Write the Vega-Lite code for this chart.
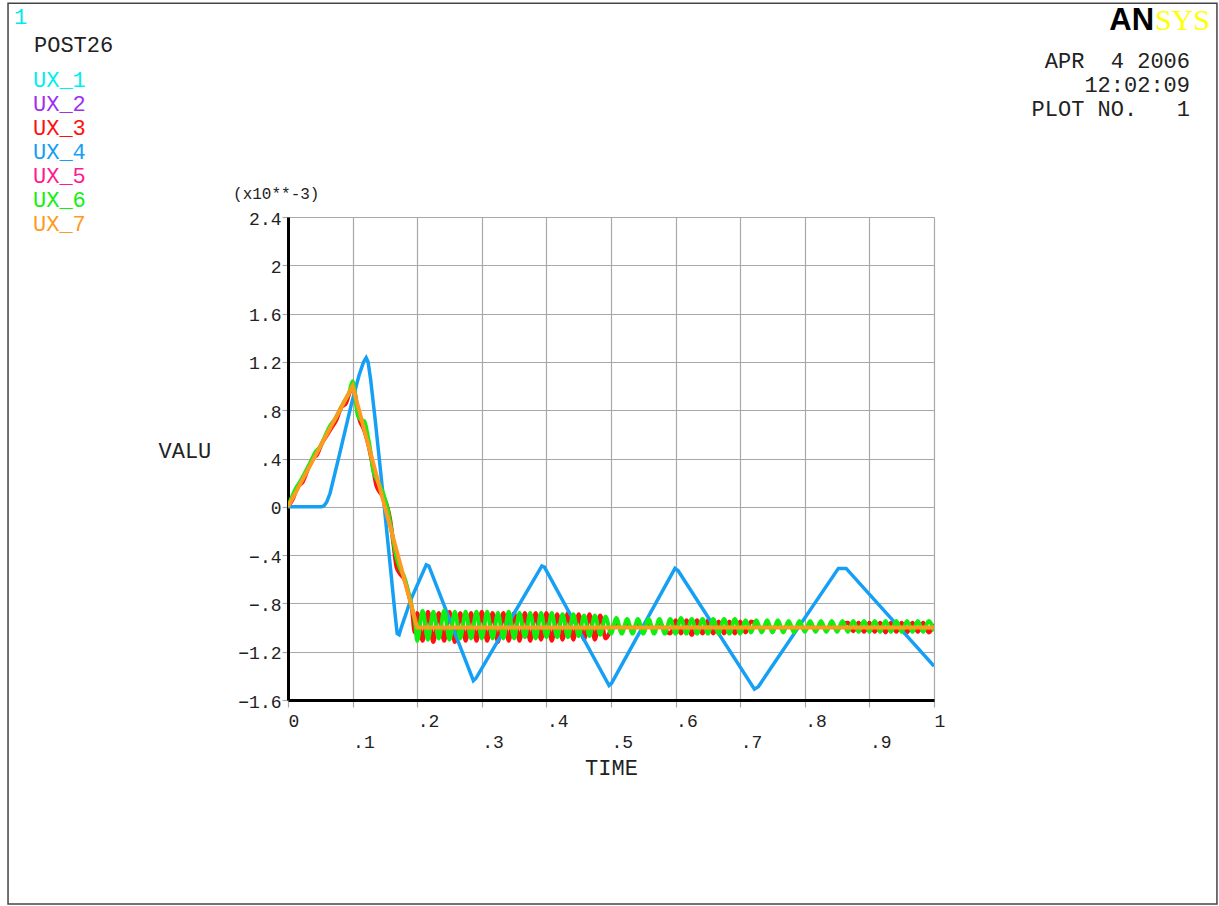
{
  "$schema": "https://vega.github.io/schema/vega-lite/v6.json",
  "width": 646,
  "height": 483,
  "autosize": {"type": "none"},
  "padding": {"left": 288, "top": 217, "right": 285, "bottom": 206},
  "background": "white",
  "config": {
    "view": {"stroke": null},
    "font": "Liberation Mono",
    "axis": {
      "grid": true,
      "gridColor": "#A8A8A8",
      "gridWidth": 1.2,
      "domainColor": "#000000",
      "domainWidth": 3,
      "tickColor": "#A8A8A8",
      "tickWidth": 1.2,
      "labelColor": "#222222",
      "titleColor": "#222222",
      "labelFont": "Liberation Mono",
      "titleFont": "Liberation Mono",
      "labelFontSize": 18,
      "titleFontSize": 22,
      "titleFontWeight": "normal"
    }
  },
  "data": {
    "values": [
      {"series":"UX_3","time":0,"value":0},{"series":"UX_3","time":0.008,"value":0.07},{"series":"UX_3","time":0.015,"value":0.17},{"series":"UX_3","time":0.022,"value":0.2},{"series":"UX_3","time":0.03,"value":0.3},{"series":"UX_3","time":0.038,"value":0.4},{"series":"UX_3","time":0.045,"value":0.43},{"series":"UX_3","time":0.052,"value":0.52},{"series":"UX_3","time":0.06,"value":0.59},{"series":"UX_3","time":0.068,"value":0.66},{"series":"UX_3","time":0.075,"value":0.72},{"series":"UX_3","time":0.082,"value":0.82},{"series":"UX_3","time":0.09,"value":0.86},{"series":"UX_3","time":0.097,"value":0.97},{"series":"UX_3","time":0.1,"value":1.0},{"series":"UX_3","time":0.104,"value":0.93},{"series":"UX_3","time":0.108,"value":0.78},{"series":"UX_3","time":0.112,"value":0.7},{"series":"UX_3","time":0.116,"value":0.66},{"series":"UX_3","time":0.12,"value":0.6},{"series":"UX_3","time":0.125,"value":0.5},{"series":"UX_3","time":0.13,"value":0.37},{"series":"UX_3","time":0.137,"value":0.17},{"series":"UX_3","time":0.145,"value":0.1},{"series":"UX_3","time":0.152,"value":0.03},{"series":"UX_3","time":0.158,"value":-0.1},{"series":"UX_3","time":0.163,"value":-0.3},{"series":"UX_3","time":0.168,"value":-0.5},{"series":"UX_3","time":0.174,"value":-0.56},{"series":"UX_3","time":0.18,"value":-0.6},{"series":"UX_3","time":0.186,"value":-0.71},{"series":"UX_3","time":0.192,"value":-0.85},{"series":"UX_3","time":0.196,"value":-1.04},
      {"series":"UX_3","time":0.2,"value":-0.88},{"series":"UX_3","time":0.2083,"value":-1.11},{"series":"UX_3","time":0.2167,"value":-0.87},{"series":"UX_3","time":0.225,"value":-1.12},{"series":"UX_3","time":0.2333,"value":-0.88},{"series":"UX_3","time":0.2417,"value":-1.11},{"series":"UX_3","time":0.25,"value":-0.87},{"series":"UX_3","time":0.2583,"value":-1.12},{"series":"UX_3","time":0.2667,"value":-0.88},{"series":"UX_3","time":0.275,"value":-1.11},{"series":"UX_3","time":0.2833,"value":-0.88},{"series":"UX_3","time":0.2917,"value":-1.11},{"series":"UX_3","time":0.3,"value":-0.87},{"series":"UX_3","time":0.3083,"value":-1.11},{"series":"UX_3","time":0.3167,"value":-0.88},{"series":"UX_3","time":0.325,"value":-1.12},{"series":"UX_3","time":0.3333,"value":-0.88},{"series":"UX_3","time":0.3417,"value":-1.11},{"series":"UX_3","time":0.35,"value":-0.88},{"series":"UX_3","time":0.3583,"value":-1.11},{"series":"UX_3","time":0.3667,"value":-0.88},{"series":"UX_3","time":0.375,"value":-1.11},{"series":"UX_3","time":0.3833,"value":-0.88},{"series":"UX_3","time":0.3917,"value":-1.1},{"series":"UX_3","time":0.4,"value":-0.88},{"series":"UX_3","time":0.4083,"value":-1.11},{"series":"UX_3","time":0.4167,"value":-0.89},{"series":"UX_3","time":0.425,"value":-1.1},{"series":"UX_3","time":0.4333,"value":-0.88},{"series":"UX_3","time":0.4417,"value":-1.1},{"series":"UX_3","time":0.45,"value":-0.89},{"series":"UX_3","time":0.4583,"value":-1.1},{"series":"UX_3","time":0.4667,"value":-0.89},{"series":"UX_3","time":0.475,"value":-1.1},{"series":"UX_3","time":0.4833,"value":-0.9},{"series":"UX_3","time":0.4917,"value":-1.09},
      {"series":"UX_3","time":0.5,"value":-1.02},{"series":"UX_3","time":0.5083,"value":-0.96},{"series":"UX_3","time":0.5167,"value":-1.03},{"series":"UX_3","time":0.525,"value":-0.96},{"series":"UX_3","time":0.5333,"value":-1.02},{"series":"UX_3","time":0.5417,"value":-0.96},{"series":"UX_3","time":0.55,"value":-1.03},{"series":"UX_3","time":0.5583,"value":-0.96},{"series":"UX_3","time":0.5667,"value":-1.02},{"series":"UX_3","time":0.575,"value":-0.96},{"series":"UX_3","time":0.5833,"value":-1.02},
      {"series":"UX_3","time":0.5917,"value":-1.05},{"series":"UX_3","time":0.6,"value":-0.94},{"series":"UX_3","time":0.6083,"value":-1.05},{"series":"UX_3","time":0.6167,"value":-0.94},{"series":"UX_3","time":0.625,"value":-1.06},{"series":"UX_3","time":0.6333,"value":-0.94},{"series":"UX_3","time":0.6417,"value":-1.05},{"series":"UX_3","time":0.65,"value":-0.94},{"series":"UX_3","time":0.6583,"value":-1.05},{"series":"UX_3","time":0.6667,"value":-0.95},{"series":"UX_3","time":0.675,"value":-1.05},{"series":"UX_3","time":0.6833,"value":-0.95},{"series":"UX_3","time":0.6917,"value":-1.05},{"series":"UX_3","time":0.7,"value":-0.95},{"series":"UX_3","time":0.7083,"value":-1.04},{"series":"UX_3","time":0.7167,"value":-0.95},
      {"series":"UX_3","time":0.725,"value":-0.97},{"series":"UX_3","time":0.7333,"value":-1.02},{"series":"UX_3","time":0.7417,"value":-0.97},{"series":"UX_3","time":0.75,"value":-1.02},{"series":"UX_3","time":0.7583,"value":-0.97},{"series":"UX_3","time":0.7667,"value":-1.02},{"series":"UX_3","time":0.775,"value":-0.97},{"series":"UX_3","time":0.7833,"value":-1.02},{"series":"UX_3","time":0.7917,"value":-0.97},{"series":"UX_3","time":0.8,"value":-1.02},{"series":"UX_3","time":0.8083,"value":-0.97},{"series":"UX_3","time":0.8167,"value":-1.02},{"series":"UX_3","time":0.825,"value":-0.97},{"series":"UX_3","time":0.8333,"value":-1.02},{"series":"UX_3","time":0.8417,"value":-0.97},{"series":"UX_3","time":0.85,"value":-1.02},{"series":"UX_3","time":0.8583,"value":-0.97},
      {"series":"UX_3","time":0.8667,"value":-0.96},{"series":"UX_3","time":0.875,"value":-1.03},{"series":"UX_3","time":0.8833,"value":-0.96},{"series":"UX_3","time":0.8917,"value":-1.035},{"series":"UX_3","time":0.9,"value":-0.96},{"series":"UX_3","time":0.9083,"value":-1.035},{"series":"UX_3","time":0.9167,"value":-0.96},{"series":"UX_3","time":0.925,"value":-1.04},{"series":"UX_3","time":0.9333,"value":-0.96},{"series":"UX_3","time":0.9417,"value":-1.035},{"series":"UX_3","time":0.95,"value":-0.96},{"series":"UX_3","time":0.9583,"value":-1.04},{"series":"UX_3","time":0.9667,"value":-0.96},{"series":"UX_3","time":0.975,"value":-1.035},{"series":"UX_3","time":0.9833,"value":-0.96},{"series":"UX_3","time":0.9917,"value":-1.04},{"series":"UX_3","time":1,"value":-0.97},

      {"series":"UX_4","time":0,"value":0},{"series":"UX_4","time":0.052,"value":0},{"series":"UX_4","time":0.056,"value":0.01},{"series":"UX_4","time":0.06,"value":0.04},{"series":"UX_4","time":0.065,"value":0.11},{"series":"UX_4","time":0.08,"value":0.44},{"series":"UX_4","time":0.0986,"value":0.86},{"series":"UX_4","time":0.11,"value":1.09},{"series":"UX_4","time":0.117,"value":1.2},{"series":"UX_4","time":0.121,"value":1.235},{"series":"UX_4","time":0.124,"value":1.2},{"series":"UX_4","time":0.128,"value":1.05},{"series":"UX_4","time":0.135,"value":0.72},{"series":"UX_4","time":0.15,"value":-0.05},{"series":"UX_4","time":0.16,"value":-0.58},{"series":"UX_4","time":0.165,"value":-0.85},{"series":"UX_4","time":0.169,"value":-1.05},{"series":"UX_4","time":0.172,"value":-1.06},{"series":"UX_4","time":0.176,"value":-0.99},{"series":"UX_4","time":0.19,"value":-0.77},{"series":"UX_4","time":0.214,"value":-0.48},{"series":"UX_4","time":0.218,"value":-0.49},{"series":"UX_4","time":0.287,"value":-1.44},{"series":"UX_4","time":0.291,"value":-1.42},{"series":"UX_4","time":0.393,"value":-0.49},{"series":"UX_4","time":0.397,"value":-0.5},{"series":"UX_4","time":0.497,"value":-1.48},{"series":"UX_4","time":0.501,"value":-1.46},{"series":"UX_4","time":0.599,"value":-0.51},{"series":"UX_4","time":0.604,"value":-0.53},{"series":"UX_4","time":0.722,"value":-1.51},{"series":"UX_4","time":0.728,"value":-1.49},{"series":"UX_4","time":0.852,"value":-0.51},{"series":"UX_4","time":0.864,"value":-0.51},{"series":"UX_4","time":1,"value":-1.32},

      {"series":"UX_6","time":0,"value":0},{"series":"UX_6","time":0.006,"value":0.08},{"series":"UX_6","time":0.012,"value":0.15},{"series":"UX_6","time":0.02,"value":0.22},{"series":"UX_6","time":0.028,"value":0.3},{"series":"UX_6","time":0.035,"value":0.37},{"series":"UX_6","time":0.042,"value":0.45},{"series":"UX_6","time":0.05,"value":0.5},{"series":"UX_6","time":0.057,"value":0.58},{"series":"UX_6","time":0.065,"value":0.67},{"series":"UX_6","time":0.072,"value":0.72},{"series":"UX_6","time":0.08,"value":0.8},{"series":"UX_6","time":0.088,"value":0.88},{"series":"UX_6","time":0.095,"value":0.95},{"series":"UX_6","time":0.1,"value":1.04},{"series":"UX_6","time":0.104,"value":0.92},{"series":"UX_6","time":0.108,"value":0.76},{"series":"UX_6","time":0.113,"value":0.72},{"series":"UX_6","time":0.118,"value":0.71},{"series":"UX_6","time":0.123,"value":0.6},{"series":"UX_6","time":0.128,"value":0.45},{"series":"UX_6","time":0.132,"value":0.3},{"series":"UX_6","time":0.14,"value":0.2},{"series":"UX_6","time":0.148,"value":0.1},{"series":"UX_6","time":0.155,"value":-0.04},{"series":"UX_6","time":0.162,"value":-0.25},{"series":"UX_6","time":0.168,"value":-0.42},{"series":"UX_6","time":0.174,"value":-0.52},{"series":"UX_6","time":0.18,"value":-0.58},{"series":"UX_6","time":0.186,"value":-0.7},{"series":"UX_6","time":0.192,"value":-0.84},{"series":"UX_6","time":0.197,"value":-0.97},
      {"series":"UX_6","time":0.2,"value":-1.11},{"series":"UX_6","time":0.2083,"value":-0.86},{"series":"UX_6","time":0.2167,"value":-1.1},{"series":"UX_6","time":0.225,"value":-0.87},{"series":"UX_6","time":0.2333,"value":-1.09},{"series":"UX_6","time":0.2417,"value":-0.86},{"series":"UX_6","time":0.25,"value":-1.1},{"series":"UX_6","time":0.2583,"value":-0.87},{"series":"UX_6","time":0.2667,"value":-1.09},{"series":"UX_6","time":0.275,"value":-0.87},{"series":"UX_6","time":0.2833,"value":-1.09},{"series":"UX_6","time":0.2917,"value":-0.87},{"series":"UX_6","time":0.3,"value":-1.09},{"series":"UX_6","time":0.3083,"value":-0.87},{"series":"UX_6","time":0.3167,"value":-1.09},{"series":"UX_6","time":0.325,"value":-0.88},{"series":"UX_6","time":0.3333,"value":-1.09},{"series":"UX_6","time":0.3417,"value":-0.87},{"series":"UX_6","time":0.35,"value":-1.09},{"series":"UX_6","time":0.3583,"value":-0.88},{"series":"UX_6","time":0.3667,"value":-1.08},{"series":"UX_6","time":0.375,"value":-0.88},{"series":"UX_6","time":0.3833,"value":-1.09},{"series":"UX_6","time":0.3917,"value":-0.88},{"series":"UX_6","time":0.4,"value":-1.08},{"series":"UX_6","time":0.4083,"value":-0.88},{"series":"UX_6","time":0.4167,"value":-1.08},{"series":"UX_6","time":0.425,"value":-0.89},{"series":"UX_6","time":0.4333,"value":-1.08},{"series":"UX_6","time":0.4417,"value":-0.89},{"series":"UX_6","time":0.45,"value":-1.07},{"series":"UX_6","time":0.4583,"value":-0.9},{"series":"UX_6","time":0.4667,"value":-1.07},{"series":"UX_6","time":0.475,"value":-0.9},{"series":"UX_6","time":0.4833,"value":-1.06},{"series":"UX_6","time":0.4917,"value":-0.91},{"series":"UX_6","time":0.5,"value":-1.05},{"series":"UX_6","time":0.5083,"value":-0.92},
      {"series":"UX_6","time":0.5167,"value":-1.05},{"series":"UX_6","time":0.525,"value":-0.93},{"series":"UX_6","time":0.5333,"value":-1.05},{"series":"UX_6","time":0.5417,"value":-0.93},{"series":"UX_6","time":0.55,"value":-1.05},{"series":"UX_6","time":0.5583,"value":-0.93},{"series":"UX_6","time":0.5667,"value":-1.05},{"series":"UX_6","time":0.575,"value":-0.93},{"series":"UX_6","time":0.5833,"value":-1.05},{"series":"UX_6","time":0.5917,"value":-0.93},{"series":"UX_6","time":0.6,"value":-1.05},{"series":"UX_6","time":0.6083,"value":-0.92},{"series":"UX_6","time":0.6167,"value":-1.05},{"series":"UX_6","time":0.625,"value":-0.93},{"series":"UX_6","time":0.6333,"value":-1.05},{"series":"UX_6","time":0.6417,"value":-0.93},{"series":"UX_6","time":0.65,"value":-1.05},{"series":"UX_6","time":0.6583,"value":-0.93},{"series":"UX_6","time":0.6667,"value":-1.05},{"series":"UX_6","time":0.675,"value":-0.93},{"series":"UX_6","time":0.6833,"value":-1.05},{"series":"UX_6","time":0.6917,"value":-0.93},{"series":"UX_6","time":0.7,"value":-1.05},{"series":"UX_6","time":0.7083,"value":-0.94},
      {"series":"UX_6","time":0.7167,"value":-1.04},{"series":"UX_6","time":0.725,"value":-0.94},{"series":"UX_6","time":0.7333,"value":-1.04},{"series":"UX_6","time":0.7417,"value":-0.94},{"series":"UX_6","time":0.75,"value":-1.04},{"series":"UX_6","time":0.7583,"value":-0.94},{"series":"UX_6","time":0.7667,"value":-1.04},{"series":"UX_6","time":0.775,"value":-0.945},{"series":"UX_6","time":0.7833,"value":-1.04},{"series":"UX_6","time":0.7917,"value":-0.945},{"series":"UX_6","time":0.8,"value":-1.035},{"series":"UX_6","time":0.8083,"value":-0.945},{"series":"UX_6","time":0.8167,"value":-1.035},{"series":"UX_6","time":0.825,"value":-0.945},{"series":"UX_6","time":0.8333,"value":-1.035},{"series":"UX_6","time":0.8417,"value":-0.945},{"series":"UX_6","time":0.85,"value":-1.035},{"series":"UX_6","time":0.8583,"value":-0.945},{"series":"UX_6","time":0.8667,"value":-1.035},{"series":"UX_6","time":0.875,"value":-0.945},{"series":"UX_6","time":0.8833,"value":-1.035},{"series":"UX_6","time":0.8917,"value":-0.945},{"series":"UX_6","time":0.9,"value":-1.035},{"series":"UX_6","time":0.9083,"value":-0.945},{"series":"UX_6","time":0.9167,"value":-1.035},{"series":"UX_6","time":0.925,"value":-0.945},{"series":"UX_6","time":0.9333,"value":-1.035},{"series":"UX_6","time":0.9417,"value":-0.945},{"series":"UX_6","time":0.95,"value":-1.035},{"series":"UX_6","time":0.9583,"value":-0.945},{"series":"UX_6","time":0.9667,"value":-1.035},{"series":"UX_6","time":0.975,"value":-0.945},{"series":"UX_6","time":0.9833,"value":-1.035},{"series":"UX_6","time":0.9917,"value":-0.945},{"series":"UX_6","time":1,"value":-1.03},

      {"series":"UX_7","time":0,"value":0},{"series":"UX_7","time":0.1,"value":1.0},{"series":"UX_7","time":0.2,"value":-1.0},{"series":"UX_7","time":1,"value":-1.0}
    ]
  },
  "layer": [
    {
      "data": {"values": [{}]},
      "mark": {"type": "rect", "fillOpacity": 0, "stroke": "#444444", "strokeWidth": 1.5, "clip": false},
      "encoding": {
        "x": {"datum": -0.4334, "type": "quantitative"},
        "x2": {"datum": 1.438},
        "y": {"datum": 4.171, "type": "quantitative"},
        "y2": {"datum": -3.289}
      }
    },
    {
      "transform": [{"filter": "datum.series === 'UX_3'"}],
      "mark": {"type": "line", "strokeWidth": 4, "interpolate": "monotone", "clip": true},
      "encoding": {
        "x": {
          "field": "time", "type": "quantitative",
          "scale": {"domain": [0, 1], "nice": false, "zero": false},
          "axis": {
            "title": "TIME",
            "values": [0, 0.1, 0.2, 0.3, 0.4, 0.5, 0.6, 0.7, 0.8, 0.9, 1],
            "labelExpr": "replace(replace(format(datum.value, '.1f'), '.0', ''), '0.', '.')",
            "labelAlign": "left",
            "labelBaseline": "top",
            "labelPadding": {"condition": {"test": "round(datum.value * 10) % 2 == 1", "value": 26}, "value": 5},
            "labelFlush": false,
            "labelOverlap": false,
            "labelBound": false,
            "tickSize": 7,
            "titleY": 67,
            "titleBaseline": "middle"
          }
        },
        "y": {
          "field": "value", "type": "quantitative",
          "scale": {"domain": [-1.6, 2.4], "nice": false, "zero": false},
          "axis": {
            "title": "VALU",
            "titleAngle": 0,
            "titleAlign": "left",
            "titleBaseline": "middle",
            "titleX": -130,
            "titleY": 233,
            "values": [-1.6, -1.2, -0.8, -0.4, 0, 0.4, 0.8, 1.2, 1.6, 2, 2.4],
            "labelExpr": "replace(replace(format(datum.value, '.1f'), '.0', ''), '0.', '.')",
            "labelBaseline": "middle",
            "labelOffset": 2,
            "labelPadding": 1,
            "labelOverlap": false,
            "labelFlush": false,
            "tickSize": 6
          }
        },
        "color": {
          "field": "series", "type": "nominal",
          "scale": {
            "domain": ["UX_1", "UX_2", "UX_3", "UX_4", "UX_5", "UX_6", "UX_7"],
            "range": ["#00F0F0", "#A030F0", "#FF1010", "#15A0F5", "#FF1A90", "#10F010", "#FF9A20"]
          },
          "legend": {
            "orient": "none",
            "legendX": -254,
            "legendY": -182,
            "title": "POST26",
            "titleFont": "Liberation Mono",
            "titleFontSize": 22,
            "titleFontWeight": "normal",
            "titleColor": "#222222",
            "titlePadding": 12,
            "labelFont": "Liberation Mono",
            "labelFontSize": 22,
            "labelColor": {"expr": "scale('color', datum.value)"},
            "symbolSize": 0,
            "symbolOpacity": 0,
            "symbolStrokeWidth": 0,
            "labelOffset": -23,
            "rowPadding": 2,
            "labelLimit": 0
          }
        }
      }
    },
    {
      "transform": [{"filter": "datum.series === 'UX_4'"}],
      "mark": {"type": "line", "strokeWidth": 3.5, "clip": true},
      "encoding": {
        "x": {"field": "time", "type": "quantitative"},
        "y": {"field": "value", "type": "quantitative"},
        "color": {"field": "series", "type": "nominal"}
      }
    },
    {
      "transform": [{"filter": "datum.series === 'UX_6'"}],
      "mark": {"type": "line", "strokeWidth": 4, "interpolate": "monotone", "clip": true},
      "encoding": {
        "x": {"field": "time", "type": "quantitative"},
        "y": {"field": "value", "type": "quantitative"},
        "color": {"field": "series", "type": "nominal"}
      }
    },
    {
      "transform": [{"filter": "datum.series === 'UX_7'"}],
      "mark": {"type": "line", "strokeWidth": 4, "clip": true},
      "encoding": {
        "x": {"field": "time", "type": "quantitative"},
        "y": {"field": "value", "type": "quantitative"},
        "color": {"field": "series", "type": "nominal"}
      }
    },
    {
      "data": {"values": [{}]},
      "mark": {"type": "text", "text": "(x10**-3)", "align": "left", "baseline": "alphabetic", "font": "Liberation Mono", "fontSize": 16, "color": "#222222", "clip": false},
      "encoding": {"x": {"datum": -0.0851, "type": "quantitative"}, "y": {"datum": 2.549, "type": "quantitative"}}
    },
    {
      "data": {"values": [{}]},
      "mark": {"type": "text", "text": "1", "align": "left", "baseline": "alphabetic", "font": "Liberation Mono", "fontSize": 22, "color": "#00E8F0", "clip": false},
      "encoding": {"x": {"datum": -0.4241, "type": "quantitative"}, "y": {"datum": 3.998, "type": "quantitative"}}
    },
    {
      "data": {"values": [{}]},
      "mark": {"type": "text", "text": "AN", "align": "right", "baseline": "alphabetic", "font": "Liberation Sans", "fontWeight": "bold", "fontSize": 31, "color": "#000000", "clip": false},
      "encoding": {"x": {"datum": 1.3406, "type": "quantitative"}, "y": {"datum": 3.9487, "type": "quantitative"}}
    },
    {
      "data": {"values": [{}]},
      "mark": {"type": "text", "text": "SYS", "align": "right", "baseline": "alphabetic", "font": "Liberation Serif", "fontSize": 30, "color": "#FFFF00", "clip": false},
      "encoding": {"x": {"datum": 1.4272, "type": "quantitative"}, "y": {"datum": 3.9487, "type": "quantitative"}}
    },
    {
      "data": {"values": [{}]},
      "mark": {"type": "text", "text": ["APR\u00a0\u00a04\u00a02006", "12:02:09", "PLOT\u00a0NO.\u00a0\u00a0\u00a01"], "align": "right", "baseline": "alphabetic", "lineHeight": 24, "font": "Liberation Mono", "fontSize": 22, "color": "#222222", "clip": false},
      "encoding": {"x": {"datum": 1.3963, "type": "quantitative"}, "y": {"datum": 3.634, "type": "quantitative"}}
    }
  ]
}
